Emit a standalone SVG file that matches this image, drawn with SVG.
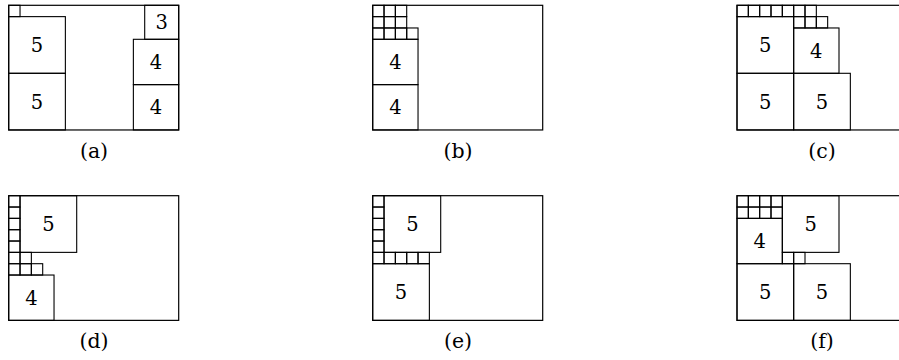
<svg xmlns="http://www.w3.org/2000/svg" xmlns:xlink="http://www.w3.org/1999/xlink" width="899" height="360" viewBox="0 0 899 360">
<style>
rect{fill:none;stroke:#000;stroke-width:1.1}
.o{stroke-width:1.2}
text{fill:#000;text-anchor:middle;font-family:"DejaVu Serif",serif}
.n{font-size:19.5px}
.l{font-size:20.5px}
</style>
<defs>
<rect id="u" width="11.33" height="11.33"/>
</defs>
<rect width="899" height="360" style="fill:#fff;stroke:none"/>
<g id="panel-a" transform="translate(8.7,5.3)">
<rect class="o" width="170" height="124.67"/>
<use xlink:href="#u" x="0" y="0"/>
<g id="a-5a"><rect x="0" y="11.33" width="56.67" height="56.67"/><text class="n" x="28.33" y="46.7">5</text></g>
<g id="a-5b"><rect x="0" y="68" width="56.67" height="56.67"/><text class="n" x="28.33" y="103.3">5</text></g>
<g id="a-3"><rect x="136" y="0" width="34" height="34"/><text class="n" x="153" y="24">3</text></g>
<g id="a-4a"><rect x="124.67" y="34" width="45.33" height="45.33"/><text class="n" x="147.33" y="63.7">4</text></g>
<g id="a-4b"><rect x="124.67" y="79.33" width="45.33" height="45.33"/><text class="n" x="147.33" y="109">4</text></g>
</g>
<g id="panel-b" transform="translate(372.7,5.3)">
<rect class="o" width="170" height="124.67"/>
<use xlink:href="#u" x="0" y="0"/><use xlink:href="#u" x="11.33" y="0"/><use xlink:href="#u" x="22.67" y="0"/>
<use xlink:href="#u" x="0" y="11.33"/><use xlink:href="#u" x="11.33" y="11.33"/><use xlink:href="#u" x="22.67" y="11.33"/>
<use xlink:href="#u" x="0" y="22.67"/><use xlink:href="#u" x="11.33" y="22.67"/><use xlink:href="#u" x="22.67" y="22.67"/><use xlink:href="#u" x="34" y="22.67"/>
<g id="b-4a"><rect x="0" y="34" width="45.33" height="45.33"/><text class="n" x="22.67" y="63.7">4</text></g>
<g id="b-4b"><rect x="0" y="79.33" width="45.33" height="45.33"/><text class="n" x="22.67" y="109">4</text></g>
</g>
<g id="panel-c" transform="translate(737,5.3)">
<rect class="o" width="170" height="124.67"/>
<use xlink:href="#u" x="0" y="0"/><use xlink:href="#u" x="11.33" y="0"/><use xlink:href="#u" x="22.67" y="0"/><use xlink:href="#u" x="34" y="0"/><use xlink:href="#u" x="45.33" y="0"/><use xlink:href="#u" x="56.67" y="0"/><use xlink:href="#u" x="68" y="0"/>
<use xlink:href="#u" x="56.67" y="11.33"/><use xlink:href="#u" x="68" y="11.33"/><use xlink:href="#u" x="79.33" y="11.33"/>
<g id="c-5a"><rect x="0" y="11.33" width="56.67" height="56.67"/><text class="n" x="28.33" y="46.7">5</text></g>
<g id="c-4"><rect x="56.67" y="22.67" width="45.33" height="45.33"/><text class="n" x="79.33" y="52.3">4</text></g>
<g id="c-5b"><rect x="0" y="68" width="56.67" height="56.67"/><text class="n" x="28.33" y="103.3">5</text></g>
<g id="c-5c"><rect x="56.67" y="68" width="56.67" height="56.67"/><text class="n" x="85" y="103.3">5</text></g>
</g>
<g id="panel-d" transform="translate(8.7,195.7)">
<rect class="o" width="170" height="124.67"/>
<use xlink:href="#u" x="0" y="0"/><use xlink:href="#u" x="0" y="11.33"/><use xlink:href="#u" x="0" y="22.67"/><use xlink:href="#u" x="0" y="34"/><use xlink:href="#u" x="0" y="45.33"/><use xlink:href="#u" x="0" y="56.67"/><use xlink:href="#u" x="0" y="68"/>
<use xlink:href="#u" x="11.33" y="56.67"/><use xlink:href="#u" x="11.33" y="68"/><use xlink:href="#u" x="22.67" y="68"/>
<g id="d-5"><rect x="11.33" y="0" width="56.67" height="56.67"/><text class="n" x="39.67" y="35.3">5</text></g>
<g id="d-4"><rect x="0" y="79.33" width="45.33" height="45.33"/><text class="n" x="22.67" y="109">4</text></g>
</g>
<g id="panel-e" transform="translate(372.7,195.7)">
<rect class="o" width="170" height="124.67"/>
<use xlink:href="#u" x="0" y="0"/><use xlink:href="#u" x="0" y="11.33"/><use xlink:href="#u" x="0" y="22.67"/><use xlink:href="#u" x="0" y="34"/><use xlink:href="#u" x="0" y="45.33"/>
<use xlink:href="#u" x="0" y="56.67"/><use xlink:href="#u" x="11.33" y="56.67"/><use xlink:href="#u" x="22.67" y="56.67"/><use xlink:href="#u" x="34" y="56.67"/><use xlink:href="#u" x="45.33" y="56.67"/>
<g id="e-5a"><rect x="11.33" y="0" width="56.67" height="56.67"/><text class="n" x="39.67" y="35.3">5</text></g>
<g id="e-5b"><rect x="0" y="68" width="56.67" height="56.67"/><text class="n" x="28.33" y="103.3">5</text></g>
</g>
<g id="panel-f" transform="translate(737,195.7)">
<rect class="o" width="170" height="124.67"/>
<use xlink:href="#u" x="0" y="0"/><use xlink:href="#u" x="11.33" y="0"/><use xlink:href="#u" x="22.67" y="0"/><use xlink:href="#u" x="34" y="0"/>
<use xlink:href="#u" x="0" y="11.33"/><use xlink:href="#u" x="11.33" y="11.33"/><use xlink:href="#u" x="22.67" y="11.33"/><use xlink:href="#u" x="34" y="11.33"/>
<use xlink:href="#u" x="45.33" y="56.67"/><use xlink:href="#u" x="56.67" y="56.67"/>
<g id="f-4"><rect x="0" y="22.67" width="45.33" height="45.33"/><text class="n" x="22.67" y="52.3">4</text></g>
<g id="f-5a"><rect x="45.33" y="0" width="56.67" height="56.67"/><text class="n" x="73.67" y="35.3">5</text></g>
<g id="f-5b"><rect x="0" y="68" width="56.67" height="56.67"/><text class="n" x="28.33" y="103.3">5</text></g>
<g id="f-5c"><rect x="56.67" y="68" width="56.67" height="56.67"/><text class="n" x="85" y="103.3">5</text></g>
</g>
<g id="labels">
<text class="l" x="94" y="158">(a)</text>
<text class="l" x="458" y="158">(b)</text>
<text class="l" x="822" y="158">(c)</text>
<text class="l" x="94" y="348">(d)</text>
<text class="l" x="458" y="348">(e)</text>
<text class="l" x="822" y="348">(f)</text>
</g>
</svg>
